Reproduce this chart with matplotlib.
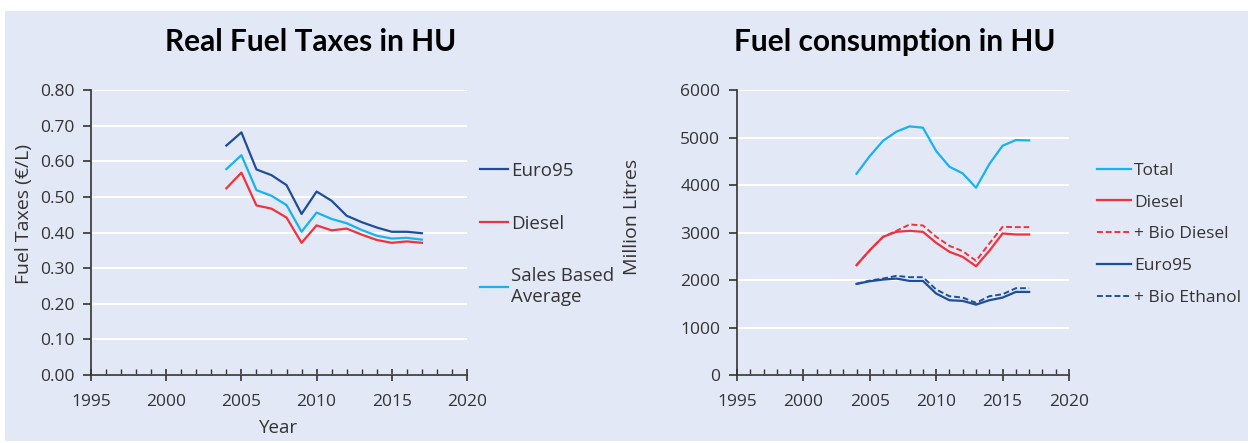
import matplotlib
matplotlib.use("Agg")
import matplotlib.pyplot as plt
from matplotlib.patches import Rectangle
from matplotlib.ticker import MultipleLocator, FormatStrFormatter

plt.rcParams['font.family'] = ['Open Sans', 'DejaVu Sans']

years = list(range(2004, 2018))

# real fuel taxes (EUR/L)
tax_euro95 = [0.644, 0.681, 0.577, 0.561, 0.533, 0.452, 0.515, 0.489, 0.447, 0.429, 0.414, 0.402, 0.402, 0.398]
tax_diesel = [0.524, 0.568, 0.476, 0.467, 0.442, 0.371, 0.420, 0.406, 0.411, 0.394, 0.379, 0.371, 0.375, 0.371]
tax_sales_avg = [0.578, 0.617, 0.519, 0.503, 0.477, 0.402, 0.456, 0.438, 0.426, 0.407, 0.391, 0.383, 0.385, 0.380]

# fuel consumption (million litres)
cons_total = [4237, 4609, 4932, 5122, 5234, 5206, 4714, 4384, 4244, 3942, 4440, 4827, 4946, 4939]
cons_diesel = [2312, 2628, 2909, 3014, 3035, 3014, 2782, 2593, 2487, 2290, 2614, 2979, 2958, 2958]
cons_biodiesel = [2312, 2628, 2909, 3035, 3169, 3148, 2909, 2719, 2607, 2403, 2768, 3120, 3113, 3113]
cons_euro95 = [1918, 1974, 2009, 2030, 1981, 1981, 1714, 1574, 1560, 1482, 1574, 1630, 1749, 1749]
cons_bioethanol = [1918, 1988, 2030, 2087, 2059, 2059, 1799, 1658, 1630, 1518, 1658, 1700, 1827, 1827]

BG = '#E2E8F6'
DARK = '#1F4E99'
RED = '#F0323C'
LIGHT = '#18B2EE'
TXT = '#333333'

W, H = 1248, 443
fig = plt.figure(figsize=(W / 100, H / 100), dpi=100)
fig.patch.set_facecolor('white')
fig.patches.append(Rectangle((5 / W, 2 / H), 1 - 5 / W, (H - 13) / H,
                             transform=fig.transFigure, facecolor=BG,
                             edgecolor='none', zorder=-10))


def style_axes(ax):
    ax.set_facecolor(BG)
    for s in ['top', 'right']:
        ax.spines[s].set_visible(False)
    for s in ['left', 'bottom']:
        ax.spines[s].set_color(TXT)
        ax.spines[s].set_linewidth(1.2)
    ax.set_xlim(1995, 2020)
    ax.xaxis.set_major_locator(MultipleLocator(5))
    ax.xaxis.set_minor_locator(MultipleLocator(1))
    ax.tick_params(axis='x', which='major', direction='inout', length=9,
                   width=1.2, color=TXT, labelsize=12.5, labelcolor=TXT, pad=9)
    ax.tick_params(axis='x', which='minor', direction='in', length=4,
                   width=1.0, color=TXT)
    ax.tick_params(axis='y', which='major', direction='out', length=6,
                   width=1.2, color=TXT, labelsize=12.5, labelcolor=TXT, pad=6)
    ax.grid(axis='y', color='white', linewidth=1.5)
    ax.set_axisbelow(True)


# left chart
ax1 = fig.add_axes([91 / W, (H - 375) / H, 376 / W, 285 / H])
style_axes(ax1)
ax1.plot(years, tax_euro95, color=DARK, lw=1.6, label='Euro95')
ax1.plot(years, tax_diesel, color=RED, lw=1.6, label='Diesel')
ax1.plot(years, tax_sales_avg, color=LIGHT, lw=1.6, label='Sales Based\nAverage')
ax1.set_ylim(0, 0.8)
ax1.yaxis.set_major_locator(MultipleLocator(0.1))
ax1.yaxis.set_major_formatter(FormatStrFormatter('%.2f'))
ax1.set_ylabel('Fuel Taxes (€/L)', fontsize=14, color=TXT)
ax1.yaxis.set_label_coords(-0.155, 0.565)
ax1.set_xlabel('Year', fontsize=13.5, color=TXT, labelpad=7)
ax1.legend(loc='upper left', bbox_to_anchor=(463 / W, (H - 145) / H),
           bbox_transform=fig.transFigure, frameon=False, fontsize=13.5,
           handlelength=1.5, handletextpad=0.15, labelspacing=1.85,
           labelcolor=TXT)
fig.text(311 / W, (H - 42) / H, 'Real Fuel Taxes in HU', ha='center', va='center',
         fontsize=21.5, fontweight='bold', color='black', family=['Lato', 'DejaVu Sans'])

# right chart
ax2 = fig.add_axes([737 / W, (H - 375) / H, 332 / W, 285 / H])
style_axes(ax2)
ax2.plot(years, cons_total, color=LIGHT, lw=1.6, label='Total')
ax2.plot(years, cons_diesel, color=RED, lw=1.6, label='Diesel')
ax2.plot(years, cons_biodiesel, color=RED, lw=1.4, ls=(0, (3, 1.5)), label='+ Bio Diesel')
ax2.plot(years, cons_euro95, color=DARK, lw=1.6, label='Euro95')
ax2.plot(years, cons_bioethanol, color=DARK, lw=1.4, ls=(0, (3, 1.5)), label='+ Bio Ethanol')
ax2.set_ylim(0, 6000)
ax2.yaxis.set_major_locator(MultipleLocator(1000))
ax2.set_ylabel('Million Litres', fontsize=14, color=TXT)
ax2.yaxis.set_label_coords(-0.29, 0.555)
ax2.legend(loc='upper left', bbox_to_anchor=(1081 / W, (H - 147) / H),
           bbox_transform=fig.transFigure, frameon=False, fontsize=12.5,
           handlelength=2.0, handletextpad=0.15, labelspacing=0.9,
           labelcolor=TXT)
fig.text(895 / W, (H - 42) / H, 'Fuel consumption in HU', ha='center', va='center',
         fontsize=21.5, fontweight='bold', color='black', family=['Lato', 'DejaVu Sans'])

fig.savefig('out.png', dpi=100)
